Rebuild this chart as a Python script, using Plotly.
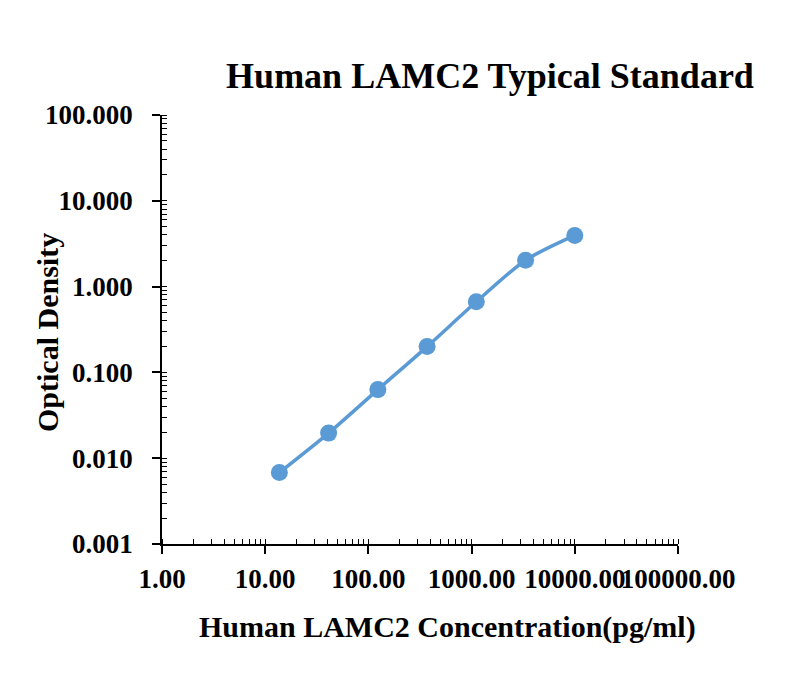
import plotly.graph_objects as go

# Standard curve data
concentration = [13.72, 41.15, 123.46, 370.37, 1111.11, 3333.33, 10000.0]
optical_density = [0.0068, 0.0196, 0.063, 0.200, 0.665, 2.03, 3.95]

x_tick_vals = [1, 10, 100, 1000, 10000, 100000]
x_tick_text = ["1.00", "10.00", "100.00", "1000.00", "10000.00", "100000.00"]
y_tick_vals = [0.001, 0.01, 0.1, 1, 10, 100]
y_tick_text = ["0.001", "0.010", "0.100", "1.000", "10.000", "100.000"]

blue = "#5B9BD5"
serif = "Liberation Serif, Times New Roman, serif"
W, H = 800, 682
OFF = 8  # page body margin

fig = go.Figure()
fig.add_trace(
    go.Scatter(
        x=concentration,
        y=optical_density,
        mode="lines+markers",
        line=dict(color=blue, width=3.5, shape="spline", smoothing=0.8),
        marker=dict(color=blue, size=17),
        showlegend=False,
    )
)

axis_common = dict(
    type="log",
    showgrid=False,
    zeroline=False,
    showline=True,
    linecolor="black",
    linewidth=1.5,
    ticks="outside",
    ticklen=8,
    tickwidth=1.5,
    tickcolor="black",
    tickmode="array",
    tickangle=0,
    automargin=False,
    tickfont=dict(family=serif, size=27, color="black"),
    minor=dict(ticks="inside", ticklen=5, tickwidth=1.2, tickcolor="black",
               dtick="D1", showgrid=False),
)

fig.update_xaxes(
    **axis_common,
    range=[0, 5],
    tickvals=x_tick_vals,
    ticktext=[f"<b>{t}</b>" for t in x_tick_text],
    ticklabelstandoff=2,
)
fig.update_yaxes(
    **axis_common,
    range=[-3, 2],
    tickvals=y_tick_vals,
    ticktext=[f"<b>{t}</b>" for t in y_tick_text],
    ticklabelstandoff=14,
)

# axis titles placed like the reference (pixel positions in the page)
fig.add_annotation(
    text="<b>Optical Density</b>",
    xref="paper", yref="paper",
    x=(47 - 162) / (678 - 162), y=(544 - 333) / (544 - 115),
    xanchor="center", yanchor="middle", textangle=-90, showarrow=False,
    font=dict(family=serif, size=30, color="black"),
)
fig.add_annotation(
    text="<b>Human LAMC2 Concentration(pg/ml)</b>",
    xref="paper", yref="paper",
    x=(447 - 162) / (678 - 162), y=(544 - 627) / (544 - 115),
    xanchor="center", yanchor="middle", showarrow=False,
    font=dict(family=serif, size=30, color="black"),
)

fig.update_layout(
    width=W,
    height=H,
    title=dict(
        text="<b>Human LAMC2 Typical Standard</b>",
        x=(490 - OFF) / W,
        xref="container",
        xanchor="center",
        y=1 - (75 - OFF) / H,
        yref="container",
        yanchor="middle",
        font=dict(family=serif, size=36, color="black"),
    ),
    font=dict(family=serif, color="black"),
    paper_bgcolor="white",
    plot_bgcolor="white",
    margin=dict(l=162 - OFF, r=W + OFF - 678, t=115 - OFF, b=H + OFF - 544),
)

fig.write_html("out.html")
